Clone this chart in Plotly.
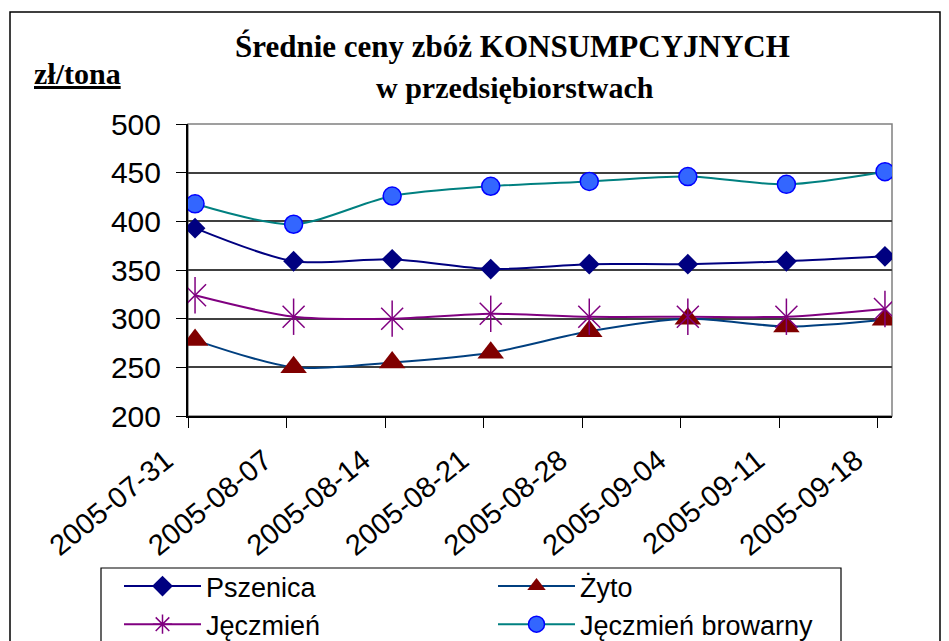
import plotly.graph_objects as go
import pandas as pd

dates = ["2005-07-31", "2005-08-07", "2005-08-14", "2005-08-21",
         "2005-08-28", "2005-09-04", "2005-09-11", "2005-09-18"]
pszenica = [393, 359, 361, 351, 356, 356, 359, 364]
zyto = [278, 250, 255, 265, 287, 300, 292, 299]
jeczmien = [324, 302, 300, 305, 302, 302, 302, 310]
jeczmien_browarny = [418, 397, 426, 436, 441, 446, 438, 451]
y_ticks = [200, 250, 300, 350, 400, 450, 500]

x = pd.to_datetime(dates) + pd.Timedelta(hours=12)
tick_pos = pd.to_datetime(dates)

FONT = "Liberation Sans, Arial, sans-serif"
SERIF = "Liberation Serif, Times New Roman, serif"
STAR = "#800080"

fig = go.Figure()

series = [
    dict(name="Pszenica", y=pszenica, line="#000080", legend="legend",
         marker=dict(symbol="diamond", size=16, color="#000080")),
    dict(name="Żyto", y=zyto, line="#003f7f", legend="legend2",
         marker=dict(symbol="triangle-up", size=23, color="#800000")),
    dict(name="Jęczmień", y=jeczmien, line=STAR, legend="legend",
         marker=dict(symbol="asterisk-open", size=22, color=STAR,
                     line=dict(color=STAR, width=1.5))),
    dict(name="Jęczmień browarny", y=jeczmien_browarny, line="#008080",
         legend="legend2",
         marker=dict(symbol="circle", size=18, color="#3366ff",
                     line=dict(color="#0000ff", width=1.5))),
]

# lines (smoothed, as in the original)
for s in series:
    fig.add_trace(go.Scatter(
        x=x, y=s["y"], mode="lines", showlegend=False, hoverinfo="skip",
        line=dict(color=s["line"], width=2, shape="spline", smoothing=0.8)))

# markers
for s in series:
    if s["name"] == "Jęczmień":
        fig.add_trace(go.Scatter(
            x=x, y=s["y"], mode="markers", showlegend=False,
            marker=dict(symbol="x-thin-open", size=22, color=STAR,
                        line=dict(color=STAR, width=1.5))))
        fig.add_trace(go.Scatter(
            x=x, y=s["y"], mode="markers", showlegend=False,
            marker=dict(symbol="line-ns-open", size=26, color=STAR,
                        line=dict(color=STAR, width=1.5))))
    else:
        fig.add_trace(go.Scatter(x=x, y=s["y"], mode="markers",
                                 showlegend=False, marker=s["marker"]))

# legend entries (two columns = two legends)
for s in series:
    fig.add_trace(go.Scatter(
        x=[None], y=[None], mode="lines+markers", name=s["name"],
        legend=s["legend"],
        line=dict(color=s["line"], width=2), marker=s["marker"]))

# page body has an 8px margin -> figure is 8px smaller, coords shifted by 8
W, H = 941, 633
L, T = 180, 116
R, B = W - 884, H - 408
pw, ph = W - L - R, H - T - B


def px_x(p):
    return (p - 8 - L) / pw


def px_y(p):
    return (H - B - (p - 8)) / ph


legend_common = dict(
    orientation="v", xref="container", yref="container",
    xanchor="left", yanchor="top",
    font=dict(size=27, family=FONT),
    bgcolor="rgba(0,0,0,0)", borderwidth=0,
    itemwidth=77, traceorder="normal", tracegroupgap=0,
)

fig.update_layout(
    width=W, height=H,
    margin=dict(l=L, r=R, t=T, b=B, pad=0, autoexpand=False),
    paper_bgcolor="white", plot_bgcolor="white",
    font=dict(family=FONT, color="black"),
    xaxis=dict(
        type="date", automargin=False,
        range=["2005-07-31", "2005-09-19"],
        tickmode="array", tickvals=tick_pos, ticktext=dates,
        tickangle=-39, tickfont=dict(size=29, family=FONT),
        ticks="outside", ticklen=10, tickcolor="black", tickwidth=1,
        ticklabelshift=-22, ticklabelstandoff=4,
        showline=True, linecolor="black", linewidth=2,
        showgrid=False, zeroline=False,
    ),
    yaxis=dict(
        range=[200, 500], tickvals=y_ticks, automargin=False,
        tickfont=dict(size=30, family=FONT),
        ticks="outside", ticklen=10, tickcolor="black", tickwidth=1,
        ticklabelstandoff=9,
        showline=True, linecolor="black", linewidth=2,
        showgrid=True, gridcolor="#404040", gridwidth=1.5,
        zeroline=False,
    ),
    legend=dict(legend_common, x=(120 - 9) / W, y=1 - 554 / H),
    legend2=dict(legend_common, x=(494 - 9) / W, y=1 - 554 / H),
    shapes=[
        dict(type="rect", xref="paper", yref="paper",
             x0=0, x1=1, y0=0, y1=1,
             line=dict(color="#808080", width=1.5), layer="below"),
        dict(type="rect", xref="paper", yref="paper",
             x0=px_x(10), x1=px_x(940), y0=px_y(700), y1=px_y(12),
             line=dict(color="black", width=1.5), layer="below"),
        dict(type="rect", xref="paper", yref="paper",
             x0=px_x(101), x1=px_x(841), y0=px_y(700), y1=px_y(568),
             line=dict(color="black", width=1.2), fillcolor="white",
             layer="above"),
    ],
    annotations=[
        dict(text="<b>Średnie ceny zbóż KONSUMPCYJNYCH</b>",
             xref="paper", yref="paper", x=px_x(512), y=px_y(47),
             xanchor="center", yanchor="middle", showarrow=False,
             font=dict(size=31, family=SERIF)),
        dict(text="<b>w przedsiębiorstwach</b>",
             xref="paper", yref="paper", x=px_x(515), y=px_y(87),
             xanchor="center", yanchor="middle", showarrow=False,
             font=dict(size=30, family=SERIF)),
        dict(text="<b><u>zł/tona</u></b>",
             xref="paper", yref="paper", x=px_x(32), y=px_y(73),
             xanchor="left", yanchor="middle", showarrow=False,
             font=dict(size=30, family=SERIF)),
    ],
)

fig.write_html("out.html")
